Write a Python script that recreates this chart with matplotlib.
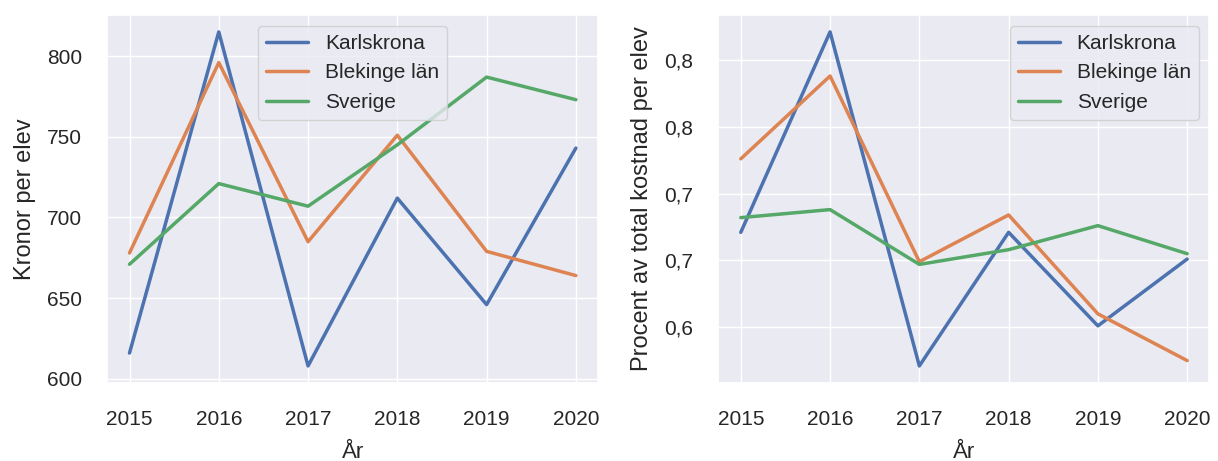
import matplotlib
matplotlib.use("Agg")
import matplotlib.pyplot as plt
import seaborn as sns
from matplotlib.ticker import FuncFormatter

# Data
ar = [2015, 2016, 2017, 2018, 2019, 2020]

kronor_karlskrona = [616, 815, 608, 712, 646, 743]
kronor_blekinge = [678, 796, 685, 751, 679, 664]
kronor_sverige = [671, 721, 707, 745, 787, 773]

procent_karlskrona = [0.671, 0.821, 0.571, 0.671, 0.601, 0.651]
procent_blekinge = [0.726, 0.788, 0.649, 0.684, 0.610, 0.575]
procent_sverige = [0.682, 0.688, 0.647, 0.658, 0.676, 0.655]

serier = ["Karlskrona", "Blekinge län", "Sverige"]

sns.set_theme(style="darkgrid")
plt.rcParams['font.family'] = ['Liberation Sans', 'DejaVu Sans']

fig, (ax1, ax2) = plt.subplots(1, 2, figsize=(12.18, 4.61), dpi=100)
fig.subplots_adjust(left=0.088, right=0.993, top=0.967, bottom=0.17, wspace=0.245)

for vals, namn in zip([kronor_karlskrona, kronor_blekinge, kronor_sverige], serier):
    ax1.plot(ar, vals, label=namn, linewidth=2.5)
ax1.set_xlabel("År", fontsize=16, labelpad=9)
ax1.set_ylabel("Kronor per elev", fontsize=17, labelpad=8)
ax1.tick_params(labelsize=15)
ax1.tick_params(axis="x", pad=14)
ax1.tick_params(axis="y", pad=12)
ax1.legend(loc="upper center", fontsize=15)

for vals, namn in zip([procent_karlskrona, procent_blekinge, procent_sverige], serier):
    ax2.plot(ar, vals, label=namn, linewidth=2.5)
ax2.set_xlabel("År", fontsize=16, labelpad=9)
ax2.set_ylabel("Procent av total kostnad per elev", fontsize=17, labelpad=8)
ax2.tick_params(labelsize=15)
ax2.tick_params(axis="x", pad=14)
ax2.tick_params(axis="y", pad=12)
ax2.yaxis.set_major_formatter(FuncFormatter(lambda v, p: "{:.1f}".format(v).replace(".", ",")))
ax2.legend(loc="upper right", fontsize=15)

fig.savefig("out.png", dpi=100)
